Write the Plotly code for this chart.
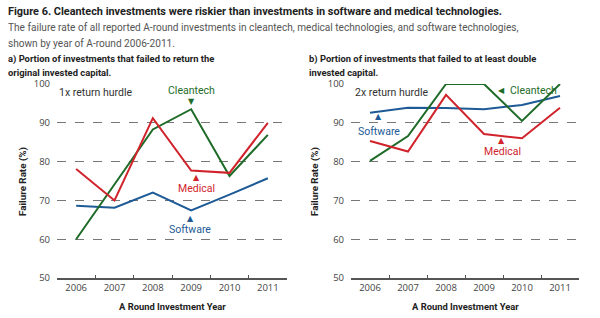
import plotly.graph_objects as go
from plotly.subplots import make_subplots

years = ["2006", "2007", "2008", "2009", "2010", "2011"]
yticks = [50, 60, 70, 80, 90, 100]

# Panel a) 1x return hurdle
a_clean = [60.0, 74.0, 88.3, 93.5, 76.3, 86.9]
a_med = [78.1, 70.0, 91.2, 77.7, 77.1, 90.0]
a_soft = [68.6, 68.1, 72.0, 67.4, 71.5, 75.7]

# Panel b) 2x return hurdle
b_clean = [80.2, 86.6, 100.0, 100.0, 90.5, 100.0]
b_med = [85.3, 82.6, 97.2, 87.1, 86.0, 93.9]
b_soft = [92.6, 93.9, 93.8, 93.5, 94.6, 96.9]

GREEN = "#1e6b28"
RED = "#d0232b"
BLUE = "#1d5a96"
FONT = "Open Sans"
NARROW = "Liberation Sans Narrow, Roboto, sans-serif"

W, H = 600, 318
T, B = 84, 278


def py(p):
    return (B - p) / (B - T)


fig = make_subplots(rows=1, cols=2)

for col, (c, m, s) in enumerate([(a_clean, a_med, a_soft), (b_clean, b_med, b_soft)], start=1):
    for vals, color, name in [(s, BLUE, "Software"), (c, GREEN, "Cleantech"), (m, RED, "Medical")]:
        fig.add_trace(go.Scatter(x=years, y=vals, mode="lines", name=name,
                                 line=dict(color=color, width=2), cliponaxis=False,
                                 showlegend=False), row=1, col=col)

axis_common = dict(tickfont=dict(family=FONT, size=9.5, color="#444"))
for ax, dom in [("xaxis", [57 / W, 287 / W]), ("xaxis2", [351 / W, 579 / W])]:
    fig.layout[ax].update(type="category", range=[-0.5, 5.5], domain=dom,
                          tickson="boundaries", ticks="inside", ticklen=3,
                          tickcolor="#555", showline=True, linecolor="#555", linewidth=1.5,
                          showgrid=False, zeroline=False, fixedrange=True, **axis_common)
for ax in ["yaxis", "yaxis2"]:
    fig.layout[ax].update(range=[50, 100], tickvals=yticks, showline=False,
                          showgrid=True, gridcolor="#777", griddash="dash", gridwidth=1,
                          zeroline=False, ticks="", ticklabelstandoff=6, fixedrange=True,
                          **axis_common)

ann = []


def text(x, y, t, size=10.5, color="#333", xanchor="left", family=NARROW, xref="paper", yref="paper", yanchor="middle", angle=0):
    ann.append(dict(x=x, y=y, xref=xref, yref=yref, text=t, showarrow=False,
                    xanchor=xanchor, yanchor=yanchor, textangle=angle,
                    font=dict(family=family, size=size, color=color)))


text(6 / W, py(11.5), "<b>Figure 6. Cleantech investments were riskier than investments in software and medical technologies.</b>", size=10.9, color="#222")
text(6 / W, py(28), "The failure rate of all reported A-round investments in cleantech, medical technologies, and software technologies,", size=10.1, color="#555")
text(6 / W, py(43), "shown by year of A-round 2006-2011.", size=10.1, color="#555")
text(6 / W, py(58.5), "<b>a) Portion of investments that failed to return the</b>", size=9.4, color="#222")
text(6 / W, py(72), "<b>original invested capital.</b>", size=9.4, color="#222")
text(307 / W, py(58.5), "<b>b) Portion of investments that failed to at least double</b>", size=9.4, color="#222")
text(307 / W, py(72), "<b>invested capital.</b>", size=9.4, color="#222")

# y axis titles and x axis titles
for xp in [23, 315]:
    text(xp / W, py(182), "<b>Failure Rate (%)</b>", size=9.8, color="#222", xanchor="center", angle=-90)
for xp in [172, 465]:
    text(xp / W, py(306), "<b>A Round Investment Year</b>", size=9.4, color="#222", xanchor="center")

TRI = "DejaVu Sans"
# panel a labels
text(-0.5, 97.7, "1x return hurdle", xref="x", yref="y", color="#333")
text(3.0, 98.3, "Cleantech", xref="x", yref="y", color=GREEN, xanchor="center")
text(3.0, 95.4, "▼", size=8, xref="x", yref="y", color=GREEN, xanchor="center", family=TRI)
text(3.15, 73.0, "Medical", xref="x", yref="y", color=RED, xanchor="center")
text(3.15, 75.9, "▲", size=8, xref="x", yref="y", color=RED, xanchor="center", family=TRI)
text(2.98, 62.5, "Software", xref="x", yref="y", color=BLUE, xanchor="center")
text(2.98, 65.3, "▲", size=8, xref="x", yref="y", color=BLUE, xanchor="center", family=TRI)

# panel b labels
text(-0.45, 97.7, "2x return hurdle", xref="x2", yref="y2", color="#333")
text(3.45, 98.3, "◀", size=8, xref="x2", yref="y2", color=GREEN, xanchor="center", family=TRI)
text(3.62, 98.3, "Cleantech", xref="x2", yref="y2", color=GREEN)
text(0.24, 87.8, "Software", xref="x2", yref="y2", color=BLUE, xanchor="center")
text(0.22, 91.5, "▲", size=8, xref="x2", yref="y2", color=BLUE, xanchor="center", family=TRI)
text(3.49, 82.5, "Medical", xref="x2", yref="y2", color=RED, xanchor="center")
text(3.47, 85.4, "▲", size=8, xref="x2", yref="y2", color=RED, xanchor="center", family=TRI)

fig.update_layout(width=W, height=H, margin=dict(l=0, r=0, t=T, b=H - B),
                  paper_bgcolor="white", plot_bgcolor="white",
                  annotations=ann, showlegend=False,
                  font=dict(family=FONT, size=10, color="#333"))

fig.write_html("out.html", config={"displayModeBar": False})
